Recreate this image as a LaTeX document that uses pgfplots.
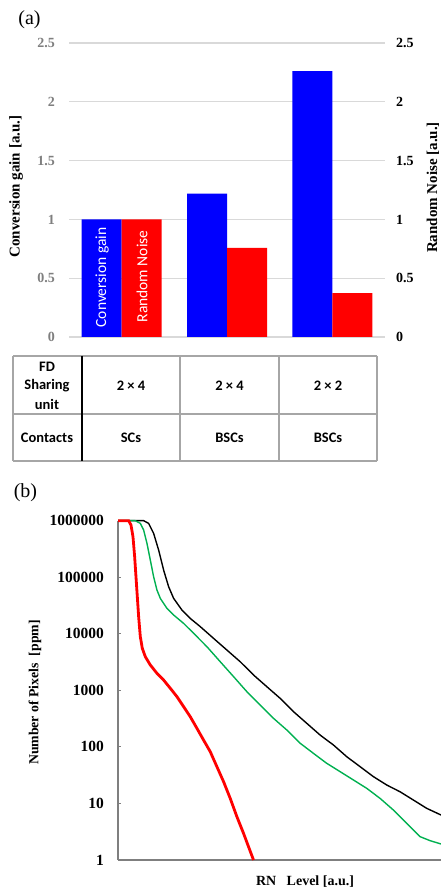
\documentclass[border=0pt]{standalone}
\usepackage{fontspec}
\setmainfont{Liberation Serif}
\newfontfamily\calfont{Carlito}
\usepackage{pgfplots}
\pgfplotsset{compat=1.18}
\definecolor{cgblue}{HTML}{0000FF}
\definecolor{rnred}{HTML}{FF0000}
\definecolor{exgreen}{HTML}{00B050}
\definecolor{gridgray}{HTML}{D9D9D9}
\definecolor{tabgray}{HTML}{A6A6A6}
\definecolor{ticgray}{HTML}{7F7F7F}
\begin{document}
\begin{tikzpicture}[x=1pt,y=1pt]
\path[use as bounding box] (0,0) rectangle (441,894);
% ---------- panel (a)
\node[font=\fontsize{20}{22}\selectfont] at (29.5,874) {(a)};
\begin{axis}[at={(69pt,557pt)}, anchor=south west, scale only axis,
  width=316pt, height=294pt,
  xmin=-0.5, xmax=2.5, ymin=0, ymax=2.5,
  xtick=\empty,
  ytick={0,0.5,1,1.5,2,2.5},
  yticklabels={0,0.5,1,1.5,2,2.5},
  ymajorgrids, grid style={gridgray, line width=1.2pt},
  axis line style={draw=none}, major tick length=0pt,
  yticklabel style={font=\fontsize{14}{16}\selectfont\bfseries, text=ticgray, inner sep=0pt, anchor=east, xshift=-14pt},
  ybar=0pt, bar width=40pt, clip=false]
\addplot[fill=cgblue, draw=none] coordinates {(0,1) (1,1.22) (2,2.26)};
\addplot[fill=rnred, draw=none] coordinates {(0,1) (1,0.757) (2,0.372)};
\end{axis}
\begin{axis}[at={(69pt,557pt)}, anchor=south west, scale only axis,
  width=316pt, height=294pt,
  xmin=-0.5, xmax=2.5, ymin=0, ymax=2.5,
  axis x line=none, axis y line*=right,
  xtick=\empty,
  ytick={0,0.5,1,1.5,2,2.5},
  yticklabels={0,0.5,1,1.5,2,2.5},
  axis line style={draw=none}, major tick length=0pt,
  yticklabel style={font=\fontsize{14}{16}\selectfont\bfseries, text=black, inner sep=0pt, anchor=west, xshift=11pt}]
\end{axis}
\node[rotate=90, text=white, font=\calfont\fontsize{15.5}{17}\selectfont] at (102,616.5) {Conversion gain};
\node[rotate=90, text=white, font=\calfont\fontsize{15.5}{17}\selectfont] at (142,617.5) {Random Noise};
\node[rotate=90, font=\fontsize{15}{17}\selectfont\bfseries] at (16,707.5) {Conversion gain [a.u.]};
\node[rotate=90, font=\fontsize{15}{17}\selectfont\bfseries] at (433,706.5) {Random Noise [a.u.]};
% table
\draw[tabgray, line width=1.2pt] (13,538) -- (377,538);
\draw[tabgray, line width=1.2pt] (13,480) -- (377,480);
\draw[tabgray, line width=1.2pt] (13,433) -- (377,433);
\foreach \xx in {13,180,279,377} {\draw[tabgray, line width=1.2pt] (\xx,538) -- (\xx,433);}
\draw[black, line width=1.6pt] (82,538) -- (82,433);
\begin{scope}[every node/.style={font=\calfont\bfseries\fontsize{14.5}{16}\selectfont, inner sep=0pt}]
\node at (47,527) {FD};
\node at (47,508) {Sharing};
\node at (47,490) {unit};
\node at (131,508) {2 × 4};
\node at (229.5,508) {2 × 4};
\node at (328,508) {2 × 2};
\node at (47,456) {Contacts};
\node at (131,456) {SCs};
\node at (229.5,456) {BSCs};
\node at (328,456) {BSCs};
\end{scope}
% ---------- panel (b)
\node[font=\fontsize{20}{22}\selectfont] at (25.5,401) {(b)};
\begin{axis}[at={(118pt,34pt)}, anchor=south west, scale only axis,
  width=323pt, height=339.3pt,
  ymode=log, ymin=1, ymax=1000000, xmin=353, xmax=1323,
  axis x line*=bottom, axis y line*=left,
  axis line style={draw=ticgray, line width=1.3pt},
  xtick=\empty, yminorticks=false,
  ytick={1,10,100,1000,10000,100000,1000000},
  yticklabels={1,10,100,1000,10000,100000,1000000},
  tick align=inside, major tick length=3pt,
  tick style={ticgray, line width=0.8pt},
  yticklabel style={font=\fontsize{15.5}{17}\selectfont\bfseries, inner sep=0pt, anchor=east, xshift=-14pt},
  clip=false]
\addplot[black, line width=1.4pt] coordinates {
(353,1000000)(430,1000000)(445,897000)(460,597000)(475,303000)(490,134000)(505,68100)(520,42400)(545,26300)(570,18700)(600,13400)(640,8300)(680,5160)(720,3210)(760,1870)(800,1160)(840,722)(880,420)(920,261)(960,162)(1000,108)(1040,67.1)(1080,44.7)(1120,29.8)(1160,21.2)(1200,16.1)(1240,11.5)(1280,8.2)(1323,6.25)};
\addplot[exgreen, line width=1.4pt] coordinates {
(353,1000000)(405,1000000)(420,897000)(430,684000)(440,397000)(450,202000)(460,102000)(470,59400)(480,42400)(500,28200)(520,21500)(550,15300)(580,10200)(620,5920)(660,3210)(700,1750)(740,947)(780,551)(820,320)(860,199)(900,116)(940,76.9)(980,51.2)(1020,36.5)(1060,26.0)(1100,18.5)(1140,12.3)(1180,7.65)(1220,4.45)(1260,2.59)(1290,2.2)(1323,1.92)};
\addplot[rnred, line width=2.8pt] coordinates {
(353,1000000)(385,1000000)(392,838000)(398,521000)(403,231000)(407,102000)(411,45300)(415,20100)(420,8900)(426,5530)(435,3940)(450,2810)(470,2000)(490,1520)(510,1090)(530,774)(550,515)(570,342)(590,213)(610,132)(630,82.4)(650,44.7)(670,24.3)(690,12.3)(710,5.84)(730,2.96)(745,1.72)(760,1)};
\end{axis}
\node[rotate=90, font=\fontsize{13.8}{16}\selectfont\bfseries] at (35,201.5) {Number of Pixels\ \ [ppm]};
\node[font=\fontsize{14}{16}\selectfont\bfseries] at (305,12) {RN\ \ \ Level [a.u.]};
\end{tikzpicture}
\end{document}
